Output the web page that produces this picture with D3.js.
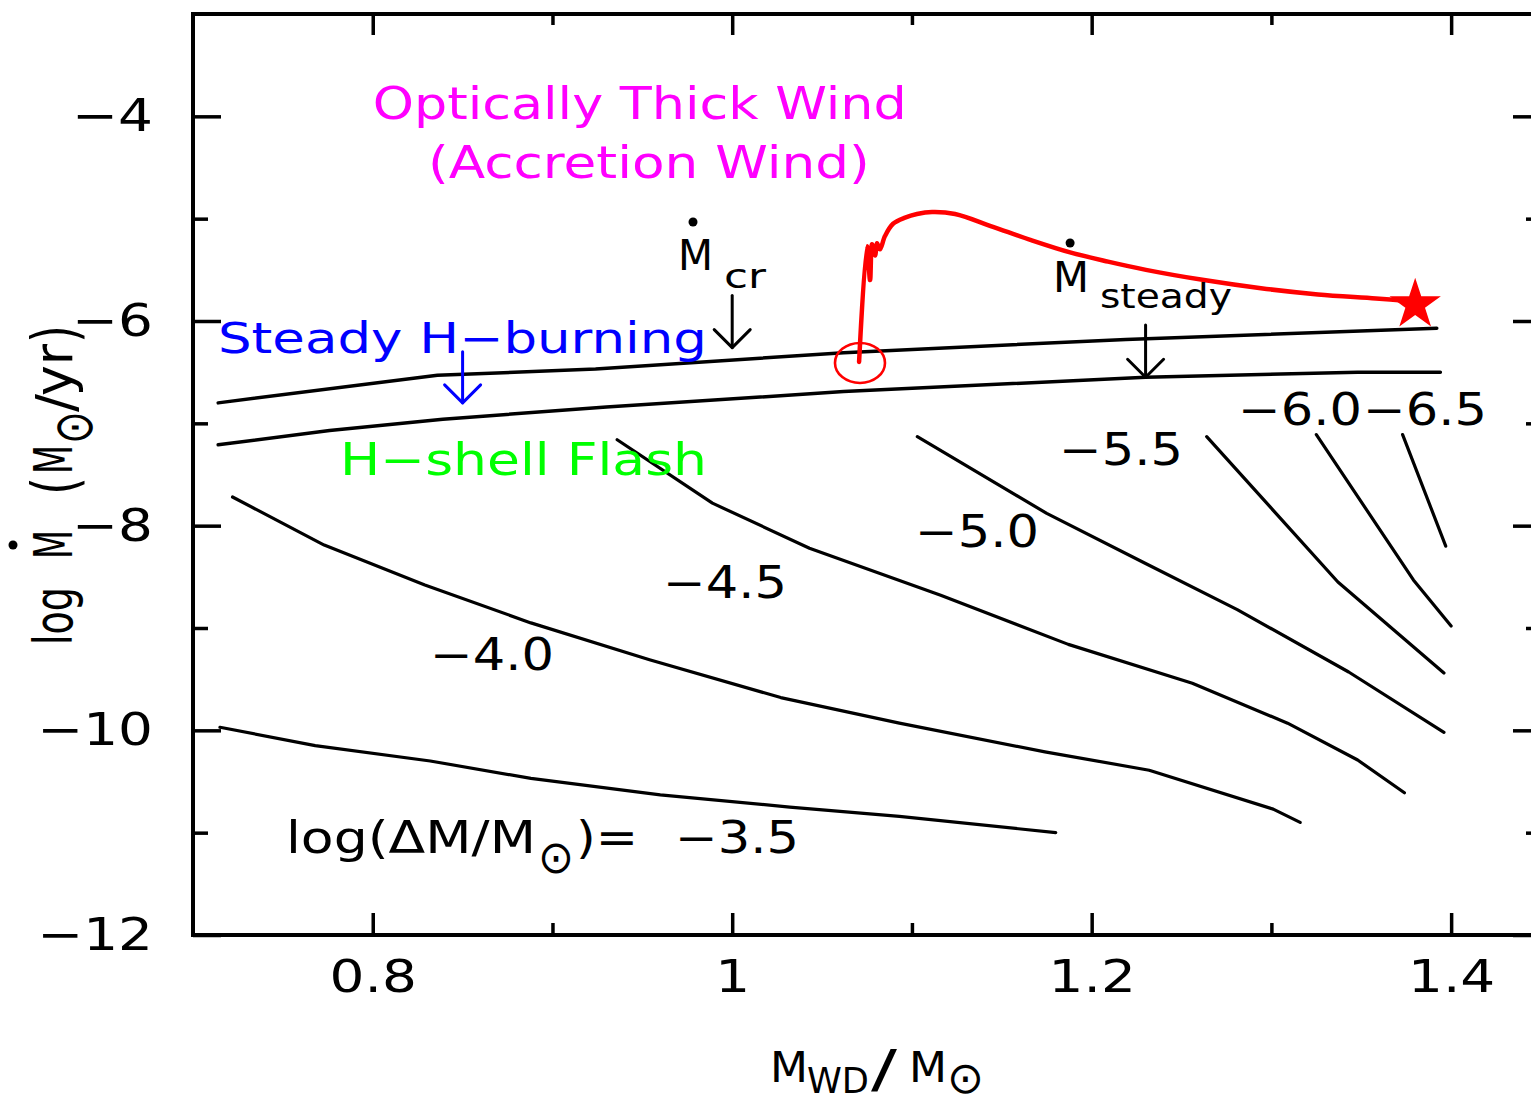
<!DOCTYPE html>
<html>
<head>
<meta charset="utf-8">
<script src="https://cdn.jsdelivr.net/npm/d3@7"></script>
<style>
  html, body { margin: 0; padding: 0; background: #fff; }
  svg { display: block; }
  text { font-family: "DejaVu Sans", sans-serif; }
</style>
</head>
<body>
<svg id="chart" width="1531" height="1102"></svg>
<script>
// ---- axis ranges and ticks ----
const xDomain = [0.70, 1.45];          // white dwarf mass (Msun)
const yDomain = [-12, -3];             // log mass accretion rate (Msun/yr)
const xTickValues = [0.8, 1.0, 1.2, 1.4];
const xTickLabels = ["0.8", "1", "1.2", "1.4"];
const xMinorTicks = [0.9, 1.1, 1.3];
const yTickValues = [-4, -6, -8, -10, -12];
const yTickLabels = ["\u22124", "\u22126", "\u22128", "\u221210", "\u221212"];
const yMinorTicks = [-5, -7, -9, -11];

// ---- critical accretion rates: [M_WD, log Mdot] ----
const mdotCritical = [[0.714, -6.80], [0.836, -6.53], [0.924, -6.47], [1.062, -6.31], [1.219, -6.18], [1.392, -6.07]];
const mdotSteady   = [[0.714, -7.21], [0.776, -7.07], [0.839, -6.96], [0.930, -6.84], [1.062, -6.69], [1.230, -6.55], [1.348, -6.50], [1.394, -6.50]];

// ---- ignition mass contours, log(dM/Msun) ----
const contourLevels = [-3.5, -4.0, -4.5, -5.0, -5.5, -6.0, -6.5];
const contourNames  = ["\u22123.5", "\u22124.0", "\u22124.5", "\u22125.0", "\u22125.5", "\u22126.0", "\u22126.5"];
const ign35 = [[0.715, -9.97], [0.768, -10.15], [0.832, -10.30], [0.888, -10.47], [0.960, -10.63], [1.032, -10.75], [1.093, -10.84], [1.180, -11.00]];
const ign40 = [[0.722, -7.72], [0.773, -8.19], [0.829, -8.58], [0.888, -8.95], [0.954, -9.31], [1.027, -9.68], [1.093, -9.93], [1.174, -10.21], [1.232, -10.39], [1.301, -10.77], [1.316, -10.90]];
const ign45 = [[0.936, -7.16], [0.989, -7.78], [1.043, -8.22], [1.116, -8.68], [1.187, -9.16], [1.256, -9.54], [1.309, -9.93], [1.348, -10.29], [1.374, -10.61]];
const ign50 = [[1.103, -7.13], [1.175, -7.88], [1.230, -8.37], [1.281, -8.82], [1.343, -9.43], [1.396, -10.02]];
const ign55 = [[1.264, -7.13], [1.337, -8.55], [1.396, -9.44]];
const ign60 = [[1.325, -7.11], [1.379, -8.53], [1.400, -8.98]];
const ign65 = [[1.373, -7.11], [1.397, -8.20]];
const contourLines = [ign35, ign40, ign45, ign50, ign55, ign60, ign65];

// ---- accretion wind evolution track ----
const windTrack = [[1.0706, -6.40], [1.0750, -5.27], [1.0767, -5.60], [1.0778, -5.25], [1.0795, -5.36], [1.0806, -5.24],
  [1.0822, -5.30], [1.0850, -5.17], [1.0895, -5.05], [1.0962, -4.99], [1.1028, -4.955], [1.1112, -4.935], [1.1240, -4.954],
  [1.1451, -5.08], [1.1663, -5.21], [1.1880, -5.33], [1.2091, -5.42], [1.2302, -5.50], [1.2625, -5.60], [1.2942, -5.68],
  [1.3259, -5.74], [1.3582, -5.78], [1.3793, -5.81]];
const ignitionPoint = [1.0711, -6.41];
const finalPoint = [1.380, -5.84];

// ---- arrows: mass, start and tip of log Mdot ----
const arrowMass = [1.000, 1.230, 0.850];
const arrowStart = [-5.75, -6.04, -6.30];
const arrowTip = [-6.26, -6.55, -6.80];
const arrowColors = ["#000", "#000", "#0000ff"];

// ---------------- drawing ----------------
const svg = d3.select("#chart");
const frame = { left: 193, top: 14, right: 1541, bottom: 935 };
svg.append("rect").attr("width", 1531).attr("height", 1102).attr("fill", "#fff");

const x = d3.scaleLinear().domain(xDomain).range([frame.left, frame.right]);
const y = d3.scaleLinear().domain(yDomain).range([frame.bottom, frame.top]);
const line = d3.line().x(d => x(d[0])).y(d => y(d[1]));

const STRETCH = 1.22;
function widen(sel) {
  sel.each(function () {
    const w = this.getComputedTextLength();
    d3.select(this).attr("textLength", w * STRETCH).attr("lengthAdjust", "spacingAndGlyphs");
  });
}
function styleAxis(g, size) {
  g.select(".domain").remove();
  g.attr("font-family", "DejaVu Sans, sans-serif").attr("font-size", size || 45);
  g.selectAll(".tick line").attr("stroke", "#000").attr("stroke-width", 3.5);
  g.selectAll(".tick text").attr("fill", "#000");
}

// bottom axis
const gb = svg.append("g").attr("transform", `translate(0,${frame.bottom})`)
  .call(d3.axisBottom(x).tickValues(xTickValues).tickFormat((d, i) => xTickLabels[i]).tickSize(-22).tickPadding(25));
styleAxis(gb); widen(gb.selectAll(".tick text"));
svg.append("g").attr("transform", `translate(0,${frame.bottom})`)
  .call(d3.axisBottom(x).tickValues(xMinorTicks).tickFormat(() => "").tickSize(-12)).call(g => styleAxis(g));
// top axis
svg.append("g").attr("transform", `translate(0,${frame.top})`)
  .call(d3.axisTop(x).tickValues(xTickValues).tickFormat(() => "").tickSize(-21)).call(g => styleAxis(g));
svg.append("g").attr("transform", `translate(0,${frame.top})`)
  .call(d3.axisTop(x).tickValues(xMinorTicks).tickFormat(() => "").tickSize(-11)).call(g => styleAxis(g));
// left axis
const gl = svg.append("g").attr("transform", `translate(${frame.left},0)`)
  .call(d3.axisLeft(y).tickValues(yTickValues).tickFormat((d, i) => yTickLabels[i]).tickSize(-28).tickPadding(40));
styleAxis(gl); widen(gl.selectAll(".tick text"));
svg.append("g").attr("transform", `translate(${frame.left},0)`)
  .call(d3.axisLeft(y).tickValues(yMinorTicks).tickFormat(() => "").tickSize(-15)).call(g => styleAxis(g));
// right axis
svg.append("g").attr("transform", `translate(${frame.right},0)`)
  .call(d3.axisRight(y).tickValues(yTickValues).tickFormat(() => "").tickSize(-28)).call(g => styleAxis(g));
svg.append("g").attr("transform", `translate(${frame.right},0)`)
  .call(d3.axisRight(y).tickValues(yMinorTicks).tickFormat(() => "").tickSize(-15)).call(g => styleAxis(g));

// frame
svg.append("rect").attr("x", frame.left).attr("y", frame.top)
  .attr("width", frame.right - frame.left).attr("height", frame.bottom - frame.top)
  .attr("fill", "none").attr("stroke", "#000").attr("stroke-width", 4);

// critical rate lines
[mdotCritical, mdotSteady].forEach(d => {
  svg.append("path").attr("d", line(d)).attr("fill", "none").attr("stroke", "#000")
    .attr("stroke-width", 3.5).attr("stroke-linejoin", "round").attr("stroke-linecap", "round");
});

// ignition mass contours
contourLines.forEach(d => {
  svg.append("path").attr("d", line(d)).attr("fill", "none").attr("stroke", "#000")
    .attr("stroke-width", 3.2).attr("stroke-linejoin", "round").attr("stroke-linecap", "round");
});

// arrows
arrowMass.forEach((m, i) => {
  const px = x(m), y0 = y(arrowStart[i]), y1 = y(arrowTip[i]);
  const g = svg.append("g").attr("stroke", arrowColors[i]).attr("stroke-width", 3).attr("fill", "none")
    .attr("stroke-linecap", "round").attr("stroke-linejoin", "round");
  g.append("line").attr("x1", px).attr("x2", px).attr("y1", y0).attr("y2", y1);
  g.append("path").attr("d", `M${px - 18},${y1 - 18}L${px},${y1}L${px + 18},${y1 - 18}`);
});

// wind track
svg.append("path").attr("d", line.curve(d3.curveCatmullRom.alpha(0.5))(windTrack))
  .attr("fill", "none").attr("stroke", "#ff0000").attr("stroke-width", 4.5)
  .attr("stroke-linejoin", "round").attr("stroke-linecap", "round");
line.curve(d3.curveLinear);
svg.append("ellipse").attr("cx", x(ignitionPoint[0])).attr("cy", y(ignitionPoint[1]))
  .attr("rx", 25).attr("ry", 20).attr("fill", "none").attr("stroke", "#ff0000").attr("stroke-width", 2.6);
svg.append("path").attr("d", d3.symbol(d3.symbolStar, 27 * 27 / 0.8908))
  .attr("transform", `translate(${x(finalPoint[0])},${y(finalPoint[1])})`).attr("fill", "#ff0000");

// text helper: placed in data coordinates, stretched to a given width
function label(str, m, v, size, color, width) {
  const t = svg.append("text").attr("x", x(m)).attr("y", y(v))
    .attr("font-size", size).attr("fill", color || "#000").text(str);
  if (width) t.attr("textLength", width).attr("lengthAdjust", "spacingAndGlyphs");
  return t;
}

// regime labels
label("Optically Thick Wind", 0.800, -4.026, 45, "#ff00ff", 534);
label("(Accretion Wind)", 0.8307, -4.602, 45, "#ff00ff", 442);
label("Steady H\u2212burning", 0.7139, -6.313, 42, "#0000ff", 489);
label("H\u2212shell Flash", 0.7818, -7.505, 44, "#00ff00", 367);

// Mdot_cr and Mdot_steady labels
label("M", 0.9698, -5.502, 42, "#000", 35);
label("cr", 0.9954, -5.678, 33, "#000", 42);
svg.append("circle").attr("cx", x(0.9782)).attr("cy", y(-5.033)).attr("r", 4.5).attr("fill", "#000");
label("M", 1.1785, -5.717, 42, "#000", 36);
label("steady", 1.2046, -5.873, 33, "#000", 132);
svg.append("circle").attr("cx", x(1.1880)).attr("cy", y(-5.238)).attr("r", 4.5).attr("fill", "#000");

// contour level labels
const contourLabelAt = [[0.9682, -11.199], [0.8319, -9.410], [0.9615, -8.707], [1.1017, -8.209], [1.1818, -7.407], [1.2814, -7.016], [1.3510, -7.016]];
contourNames.forEach((s, i) => label(s, contourLabelAt[i][0], contourLabelAt[i][1], 44, "#000", 124));
label("log(\u0394M/M", 0.7517, -11.199, 44, "#000", 250);
label("\u2299", 0.8920, -11.39, 46, "#000", 36);
label(")=", 0.9131, -11.199, 44, "#000", 62);

// x axis title
const xt = svg.append("g");
const xpiece = (s, px, py, size, w) => xt.append("text").attr("x", px).attr("y", py).attr("font-size", size)
  .attr("textLength", w).attr("lengthAdjust", "spacingAndGlyphs").text(s);
xpiece("M", 770, 1082, 42, 38);
xpiece("WD", 807, 1093, 35, 62);
xpiece("/", 871, 1087, 52, 26);
xpiece("M", 909, 1082, 42, 38);
xpiece("\u2299", 947, 1093, 44, 37);

// y axis title, reading upward
const yt = svg.append("g").attr("transform", "translate(72,645) rotate(-90)");
const ypiece = (s, rx, ry, size, w) => yt.append("text").attr("x", rx).attr("y", ry).attr("font-size", size)
  .attr("textLength", w).attr("lengthAdjust", "spacingAndGlyphs").text(s);
ypiece("log", 0, 0, 53, 58);
ypiece("M", 86, 0, 53, 29);
ypiece("(", 150, 4, 62, 18);
ypiece("M", 171, 0, 53, 29);
ypiece("\u2299", 201, 20, 54, 33);
ypiece("/", 233, 2, 54, 18);
ypiece("yr", 249, 0, 53, 52);
ypiece(")", 302, 4, 62, 18);
svg.append("circle").attr("cx", 13).attr("cy", 545).attr("r", 4.5).attr("fill", "#000");
</script>
</body>
</html>
